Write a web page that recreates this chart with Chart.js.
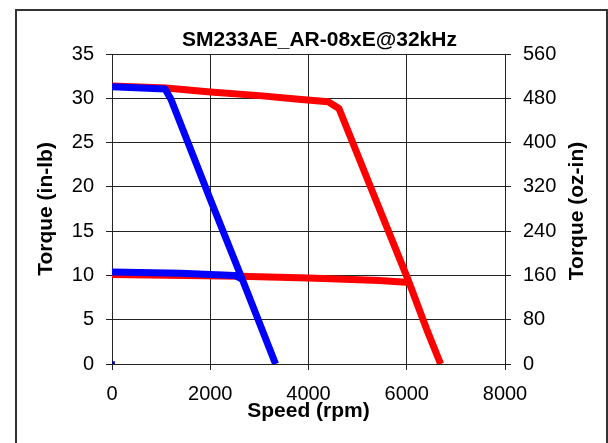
<!DOCTYPE html>
<html>
<head>
<meta charset="utf-8">
<script src="https://cdn.jsdelivr.net/npm/chart.js@4.4.1/dist/chart.umd.min.js"></script>
<style>
  body { margin: 0; background: #fff; }
  #marco { position: absolute; left: 15px; top: 9px; width: 593px; height: 480px; border: 2px solid #333; box-sizing: border-box; }
  #grafica { position: absolute; left: 0; top: 0; }
</style>
</head>
<body>
<div id="marco"></div>
<canvas id="grafica" width="608" height="443"></canvas>
<script>
const titulo = 'SM233AE_AR-08xE@32kHz';
const tituloEjeDerecho = 'Torque (oz-in)';

// Curva azul (par superior y par inferior), velocidad en rpm y par en in-lb
const azulSupVelocidad = [0, 1080, 1200, 2000, 2650, 3330];
const azulSupPar = [31.3, 31.05, 29.9, 18.6, 9.6, 0];
const azulInfVelocidad = [0, 1400, 2500, 2640];
const azulInfPar = [10.4, 10.25, 10.0, 9.6];

// Curva roja
const rojaSupVelocidad = [0, 1100, 2000, 3000, 3800, 4400, 4620, 5270, 6000, 6400, 6690];
const rojaSupPar = [31.4, 31.15, 30.7, 30.3, 29.9, 29.6, 28.85, 19.9, 9.9, 4.0, 0];
const rojaInfVelocidad = [0, 2600, 4000, 5450, 6045];
const rojaInfPar = [10.1, 9.9, 9.72, 9.42, 9.2];

// Punto suelto en el origen
const origenVelocidad = [30];
const origenPar = [0.15];

// Ejes
const ticksVelocidad = [0, 2000, 4000, 6000, 8000];
const ticksInLb = [0, 5, 10, 15, 20, 25, 30, 35];
const ticksOzIn = [0, 80, 160, 240, 320, 400, 480, 560];

const colorRejilla = '#222';
const fuente = 'Arial, "Liberation Sans", sans-serif';
Chart.defaults.font.family = fuente;
Chart.defaults.color = '#000';

// Juntar x e y en puntos
function puntos(xs, ys) {
    return xs.map((x, i) => ({ x: x, y: ys[i] }));
}

function curva(xs, ys, color) {
    return {
        data: puntos(xs, ys),
        borderColor: color,
        backgroundColor: color,
        borderWidth: 7,
        borderJoinStyle: 'round',
        pointRadius: 0,
        showLine: true,
        tension: 0,
        yAxisID: 'y',
    };
}

// Titulo y titulo del eje derecho dibujados a mano (el original los gira como el izquierdo)
const textosPlugin = {
    id: 'textos',
    afterDraw(chart) {
        const ctx = chart.ctx;
        const area = chart.chartArea;
        ctx.save();
        ctx.font = 'bold 21px ' + fuente;
        ctx.fillStyle = '#000';
        ctx.textAlign = 'center';
        ctx.textBaseline = 'alphabetic';
        ctx.fillText(titulo, 319.5, 46);

        ctx.translate(583, (area.top + area.bottom) / 2 + 2);
        ctx.rotate(-Math.PI / 2);
        ctx.fillText(tituloEjeDerecho, 0, 0);
        ctx.restore();
    }
};

const ctx = document.getElementById('grafica').getContext('2d');
const grafica = new Chart(ctx, {
    type: 'scatter',
    data: {
        datasets: [
            {
                data: puntos(origenVelocidad, origenPar),
                pointStyle: 'rect',
                pointRadius: 2,
                backgroundColor: '#0000a0',
                borderColor: '#0000a0',
                borderWidth: 0,
                clip: false,
                yAxisID: 'y',
            },
            curva(azulSupVelocidad, azulSupPar, '#0000ff'),
            curva(azulInfVelocidad, azulInfPar, '#0000ff'),
            curva(rojaSupVelocidad, rojaSupPar, '#ff0000'),
            curva(rojaInfVelocidad, rojaInfPar, '#ff0000'),
        ],
    },
    options: {
        responsive: false,
        animation: false,
        layout: { padding: { top: 54, left: 0, right: 0, bottom: 0 } },
        plugins: {
            legend: { display: false },
            tooltip: { enabled: false },
        },
        scales: {
            x: {
                type: 'linear',
                min: ticksVelocidad[0],
                max: ticksVelocidad[ticksVelocidad.length - 1],
                afterBuildTicks: s => { s.ticks = ticksVelocidad.map(v => ({ value: v })); },
                ticks: { padding: 12, font: { size: 20 }, maxRotation: 0, autoSkip: false, callback: v => String(v) },
                grid: { color: colorRejilla, tickLength: 6 },
                border: { color: colorRejilla },
                title: { display: true, text: 'Speed (rpm)', font: { size: 21, weight: 'bold' }, padding: { top: 0, bottom: 19 } },
                afterFit: s => { s.height = 79; },
            },
            y: {
                position: 'left',
                min: ticksInLb[0],
                max: ticksInLb[ticksInLb.length - 1],
                afterBuildTicks: s => { s.ticks = ticksInLb.map(v => ({ value: v })); },
                ticks: { padding: 12, font: { size: 20 }, callback: v => String(v) },
                grid: { color: colorRejilla, tickLength: 6 },
                border: { color: colorRejilla },
                title: { display: true, text: 'Torque (in-lb)', font: { size: 21, weight: 'bold' }, padding: { top: 34, bottom: 0 } },
                afterFit: s => { s.width = 112; },
            },
            y2: {
                position: 'right',
                min: ticksOzIn[0],
                max: ticksOzIn[ticksOzIn.length - 1],
                afterBuildTicks: s => { s.ticks = ticksOzIn.map(v => ({ value: v })); },
                ticks: { padding: 12, font: { size: 20 }, callback: v => String(v) },
                grid: { color: colorRejilla, tickLength: 6, drawOnChartArea: false },
                border: { color: colorRejilla },
                afterFit: s => { s.width = 103; },
            },
        },
    },
    plugins: [textosPlugin],
});
</script>
</body>
</html>
